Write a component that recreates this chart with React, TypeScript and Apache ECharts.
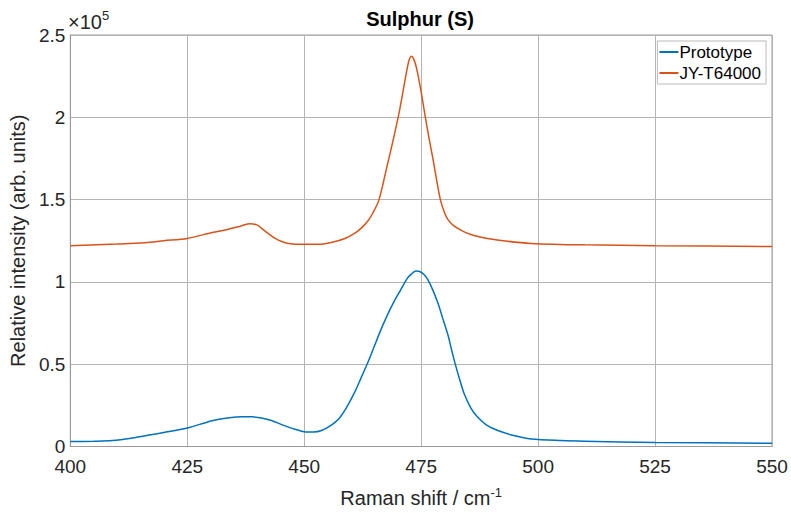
import React, { useEffect, useRef } from "react";
import * as echarts from "echarts";

const xTicks = [400, 425, 450, 475, 500, 525, 550];
const yTicks = [0, 0.5, 1, 1.5, 2, 2.5];

const protoX = [400, 405, 409, 413, 416, 420, 425, 430.3, 434, 436.7, 439, 440.9, 443, 445.2, 448, 450, 452, 453.7, 455.8, 457.3, 459, 460.8, 462.2, 463.6, 465, 466.4, 467.8, 469.2, 470.6, 472, 473, 473.9, 474.8, 475.6, 476.4, 477.5, 478.6, 479.6, 480.7, 481.4, 482.1, 483.2, 484.2, 485.6, 487.1, 489, 491.4, 495, 498.5, 505, 510, 525, 550];
const protoY = [0.03, 0.032, 0.036, 0.05, 0.066, 0.085, 0.112, 0.157, 0.175, 0.181, 0.18, 0.173, 0.158, 0.133, 0.105, 0.09, 0.088, 0.097, 0.13, 0.165, 0.235, 0.33, 0.42, 0.51, 0.61, 0.71, 0.8, 0.88, 0.95, 1.02, 1.05, 1.066, 1.062, 1.045, 1.015, 0.95, 0.87, 0.78, 0.68, 0.6, 0.52, 0.41, 0.32, 0.235, 0.177, 0.13, 0.097, 0.065, 0.046, 0.036, 0.032, 0.025, 0.02];

const jyX = [400, 410, 416, 420, 425, 430.3, 433.8, 436.5, 438.4, 440, 440.9, 442.5, 443.8, 445.2, 446.6, 449.4, 453, 455.8, 458.7, 461, 462.3, 463.6, 464.7, 466, 467.6, 469, 470.3, 471.2, 471.9, 472.4, 472.9, 473.4, 474, 474.9, 475.9, 476.7, 477.5, 478.3, 479.1, 480, 480.7, 482, 484.2, 486.5, 489.2, 493, 498.5, 510, 525, 550];
const jyY = [1.22, 1.23, 1.238, 1.25, 1.264, 1.3, 1.32, 1.34, 1.354, 1.345, 1.325, 1.29, 1.264, 1.245, 1.234, 1.228, 1.228, 1.24, 1.264, 1.3, 1.33, 1.37, 1.42, 1.5, 1.69, 1.86, 2.03, 2.17, 2.28, 2.345, 2.371, 2.355, 2.3, 2.17, 2.0, 1.87, 1.75, 1.62, 1.5, 1.42, 1.38, 1.34, 1.304, 1.28, 1.264, 1.248, 1.234, 1.225, 1.22, 1.215];

const SCALE = 1e5;
const FONT = "'Liberation Sans', Arial, sans-serif";
const TXT = "#262626";

export default function App() {
  const ref = useRef<HTMLDivElement>(null);
  useEffect(() => {
    if (!ref.current) return;
    const chart = echarts.init(ref.current, undefined, { renderer: "svg" });
    const pairs = (xs: number[], ys: number[]) => xs.map((x, i) => [x, ys[i] * SCALE]);
    chart.setOption({
      animation: false,
      backgroundColor: "#ffffff",
      textStyle: { fontFamily: FONT },
      title: {
        text: "Sulphur (S)",
        left: 420,
        textAlign: "center",
        top: 9,
        padding: 0,
        textStyle: { fontFamily: FONT, fontSize: 20, fontWeight: "bold", color: "#000" },
      },
      graphic: [
        {
          type: "text",
          left: 68,
          top: 9,
          style: {
            text: "×10{sup|5}",
            fontFamily: FONT,
            fontSize: 20,
            fill: TXT,
            rich: { sup: { fontSize: 13, verticalAlign: "top", padding: [0, 0, 12, 0], fontFamily: FONT, fill: TXT } },
          },
        },
      ],
      legend: {
        orient: "vertical",
        right: 25,
        top: 41,
        backgroundColor: "#fff",
        borderColor: "#bbbbbb",
        borderWidth: 1,
        borderRadius: 0,
        padding: [1, 5, 1, 2],
        itemGap: 1,
        itemWidth: 19,
        itemHeight: 2,
        icon: "rect",
        textStyle: { fontFamily: FONT, fontSize: 17, color: "#000", padding: [0, 0, 0, -4], lineHeight: 20 },
        data: ["Prototype", "JY-T64000"],
      },
      grid: {
        left: 68,
        right: 19,
        top: 35,
        bottom: 64,
        show: true,
        borderColor: "#9a9a9a",
        borderWidth: 1,
      },
      xAxis: {
        type: "value",
        min: 400,
        max: 550,
        interval: 25,
        name: "Raman shift / cm{sup|-1}",
        nameLocation: "middle",
        nameGap: 39,
        nameTextStyle: {
          fontFamily: FONT,
          fontSize: 20,
          color: TXT,
          rich: { sup: { fontSize: 13, verticalAlign: "top", padding: [0, 0, 12, 0], fontFamily: FONT, color: TXT } },
        },
        axisLine: { show: true, lineStyle: { color: "#9a9a9a" } },
        axisTick: { show: false },
        axisLabel: {
          fontFamily: FONT,
          fontSize: 19,
          lineHeight: 16,
          color: TXT,
          margin: 12,
          formatter: (v: number) => (xTicks.includes(v) ? String(v) : ""),
        },
        splitLine: { show: true, lineStyle: { color: "#b4b4b4", width: 1 } },
      },
      yAxis: {
        type: "value",
        min: 0,
        max: 2.5 * SCALE,
        interval: 0.5 * SCALE,
        name: "Relative intensity (arb. units)",
        nameLocation: "middle",
        nameGap: 36,
        nameTextStyle: { fontFamily: FONT, fontSize: 20, color: TXT },
        axisLine: { show: true, lineStyle: { color: "#9a9a9a" } },
        axisTick: { show: false },
        axisLabel: {
          fontFamily: FONT,
          fontSize: 19,
          lineHeight: 16,
          color: TXT,
          margin: 5,
          formatter: (v: number) => {
            const t = Math.round((v / SCALE) * 10) / 10;
            return yTicks.includes(t) ? String(t) : "";
          },
        },
        splitLine: { show: true, lineStyle: { color: "#b4b4b4", width: 1 } },
      },
      series: [
        {
          name: "Prototype",
          type: "line",
          data: pairs(protoX, protoY),
          smooth: 0.3,
          showSymbol: false,
          symbol: "none",
          color: "#0072BD",
          lineStyle: { color: "#0072BD", width: 1.5 },
        },
        {
          name: "JY-T64000",
          type: "line",
          data: pairs(jyX, jyY),
          smooth: 0.3,
          showSymbol: false,
          symbol: "none",
          color: "#D95319",
          lineStyle: { color: "#D95319", width: 1.5 },
        },
      ],
    });
    return () => chart.dispose();
  }, []);
  return <div ref={ref} style={{ position: "absolute", left: 0, top: 0, width: 791, height: 513 }} />;
}
